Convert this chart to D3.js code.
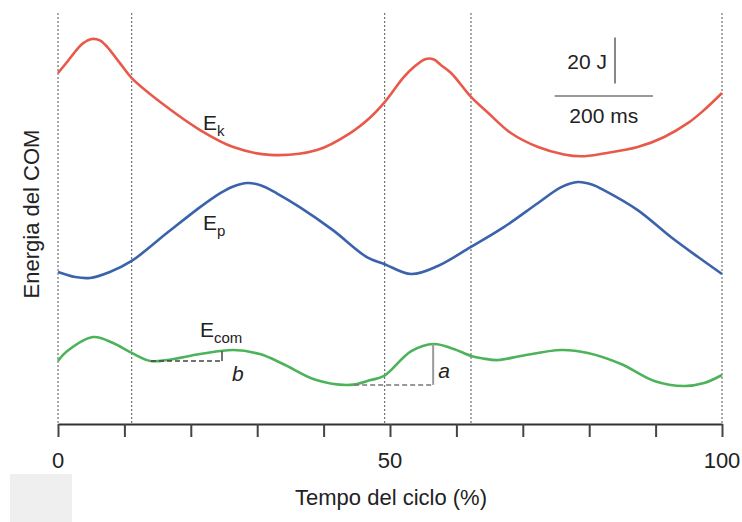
<!DOCTYPE html>
<html>
<head>
<meta charset="utf-8">
<script src="https://cdn.jsdelivr.net/npm/d3@7"></script>
<style>
  body { margin: 0; background: #fff; }
  text { font-family: "Liberation Sans", Arial, Helvetica, sans-serif; fill: #222; }
</style>
</head>
<body>
<svg id="chart" width="742" height="522"></svg>
<script>
// cycle percent where each curve was sampled
var ekPct = [0, 1.4, 2.9, 3.8, 5.1, 6.3, 7.4, 9.3, 11.1, 16.4, 21.4, 26.4, 31.9, 39, 44, 47.1, 49.1, 52.1, 53.6, 55.4, 56.6, 57.7, 59.2, 62.2, 64.8, 68.2, 72.3, 76.2, 78.8, 82.2, 87.3, 91.3, 94.9, 97.3, 100];
var ekVals = [152.6, 157.5, 163, 165.6, 167.4, 166.8, 164, 157, 150.4, 137.8, 127.8, 120.4, 117, 119.1, 126.5, 133.5, 139.6, 150.9, 155.2, 158.7, 158.5, 156, 152.6, 142.2, 135.2, 126.5, 120.4, 117.2, 116.4, 117.6, 120.4, 124.8, 130.9, 136.5, 143.9];

var epPct = [0, 2.6, 4.8, 7.8, 11.1, 16.4, 21.4, 24.5, 26.4, 28.5, 30.5, 33, 36.4, 41.4, 46.5, 49.1, 53.2, 57.2, 62.2, 67.2, 72.3, 75.8, 78.3, 80.5, 82.2, 87.3, 92.3, 96.4, 100];
var epVals = [66.1, 63.9, 63.5, 66.1, 70.9, 83, 94.3, 100.5, 103.3, 104.8, 103.8, 100.2, 94.3, 84.3, 72.6, 69.6, 65.2, 68.7, 77, 85.7, 96.1, 103, 105.2, 104, 101.7, 93, 81.3, 72.6, 65.2];

var ecomPct = [0, 1.4, 5.3, 8.3, 11.1, 13.9, 16.4, 21.4, 26.4, 30.4, 33.9, 38.9, 44, 47.1, 49.1, 53.2, 56.6, 59.6, 62.2, 64, 66.3, 69.7, 75.8, 79.8, 84.8, 89.8, 94.3, 97.3, 100];
var ecomVals = [27.4, 31.7, 37.8, 35.2, 30.9, 27.4, 27.8, 30.4, 32.2, 30.4, 26.1, 19.1, 17, 19.1, 20.9, 31.7, 34.8, 32.6, 29.6, 28.5, 27.8, 29.6, 32.2, 30.9, 26.1, 18.7, 16.5, 17.8, 21.3];

// gait events (dotted verticals), axis ticks
var eventPct = [0, 11.1, 49.2, 62.2, 100];
var tickVals = [0, 10, 20, 30, 40, 50, 60, 70, 80, 90, 100];
var tickLabels = ["0", "50", "100"];

// annotations b and a: [x start, x end, low energy, high energy]
var annotB = [14, 24.7, 27.4, 31.6];
var annotA = [44.6, 56.5, 17, 34.8];

// scale bars: 20 J and 200 ms (as % of cycle)
var barJ = [148, 168];
var barMs = [74.8, 89.6];

var svg = d3.select("#chart");
var x = d3.scaleLinear().domain([0, 100]).range([58, 722]);
var y = d3.scaleLinear().domain([0, 180]).range([424, 10]);

// grey box bottom-left
svg.append("rect").attr("x", 10).attr("y", 474).attr("width", 62).attr("height", 48).attr("fill", "#efefef");

// dotted event lines
svg.selectAll(".ev").data(eventPct).enter().append("line")
  .attr("x1", function(d) { return x(d); }).attr("x2", function(d) { return x(d); })
  .attr("y1", 13).attr("y2", 424)
  .attr("stroke", "#555").attr("stroke-width", 1).attr("stroke-dasharray", "2,2");

// x axis
var xAxis = d3.axisBottom(x).tickValues(tickVals).tickSize(13).tickSizeOuter(0).tickFormat("");
var ax = svg.append("g").attr("transform", "translate(0,424)").call(xAxis);
ax.select(".domain").attr("stroke", "#333").attr("stroke-width", 2);
ax.selectAll(".tick line").attr("stroke", "#444").attr("stroke-width", 2);

svg.selectAll(".tl").data(tickLabels).enter().append("text")
  .attr("x", function(d) { return x(+d); }).attr("y", 468)
  .attr("text-anchor", "middle").attr("font-size", 22).text(function(d) { return d; });

svg.append("text").attr("x", 391).attr("y", 505).attr("text-anchor", "middle")
  .attr("font-size", 22).text("Tempo del ciclo (%)");

svg.append("text").attr("transform", "translate(31,214) rotate(-90)")
  .attr("text-anchor", "middle").attr("dy", "0.35em").attr("font-size", 22).text("Energia del COM");

// curves
var line = d3.line().x(function(d) { return x(d[0]); }).y(function(d) { return y(d[1]); }).curve(d3.curveCatmullRom.alpha(0.5));
var series = [
  { pct: ekPct, vals: ekVals, color: "#e9594a" },
  { pct: epPct, vals: epVals, color: "#3a63ac" },
  { pct: ecomPct, vals: ecomVals, color: "#4db35b" }
];
series.forEach(function(s) {
  svg.append("path").datum(d3.zip(s.pct, s.vals))
    .attr("d", line).attr("fill", "none")
    .attr("stroke", s.color).attr("stroke-width", 2.6);
});

// curve labels
function eLabel(px, py, sub) {
  var t = svg.append("text").attr("x", px).attr("y", py).attr("font-size", 21);
  t.append("tspan").text("E");
  t.append("tspan").attr("font-size", 15).attr("dy", 6).text(sub);
}
eLabel(203, 130, "k");
eLabel(203, 230, "p");
eLabel(200, 337, "com");

// annotation b
svg.append("line").attr("x1", x(annotB[0])).attr("x2", x(annotB[1])).attr("y1", y(annotB[2])).attr("y2", y(annotB[2]))
  .attr("stroke", "#444").attr("stroke-width", 1.5).attr("stroke-dasharray", "5,3");
svg.append("line").attr("x1", x(annotB[1])).attr("x2", x(annotB[1])).attr("y1", y(annotB[2])).attr("y2", y(annotB[3]))
  .attr("stroke", "#444").attr("stroke-width", 1.5);
svg.append("text").attr("x", x(annotB[1]) + 10).attr("y", 381).attr("font-size", 21).attr("font-style", "italic").text("b");

// annotation a
svg.append("line").attr("x1", x(annotA[0])).attr("x2", x(annotA[1])).attr("y1", y(annotA[2])).attr("y2", y(annotA[2]))
  .attr("stroke", "#777").attr("stroke-width", 1.5).attr("stroke-dasharray", "5,3");
svg.append("line").attr("x1", x(annotA[1])).attr("x2", x(annotA[1])).attr("y1", y(annotA[2])).attr("y2", y(annotA[3]))
  .attr("stroke", "#999").attr("stroke-width", 2);
svg.append("text").attr("x", x(annotA[1]) + 5).attr("y", 378).attr("font-size", 21).attr("font-style", "italic").text("a");

// scale bars
svg.append("line").attr("x1", 615).attr("x2", 615).attr("y1", y(barJ[0])).attr("y2", y(barJ[1]))
  .attr("stroke", "#888").attr("stroke-width", 2);
svg.append("text").attr("x", 607).attr("y", 69).attr("text-anchor", "end").attr("font-size", 21).text("20 J");
svg.append("line").attr("x1", x(barMs[0])).attr("x2", x(barMs[1])).attr("y1", 96).attr("y2", 96)
  .attr("stroke", "#999").attr("stroke-width", 2);
svg.append("text").attr("x", (x(barMs[0]) + x(barMs[1])) / 2).attr("y", 123).attr("text-anchor", "middle")
  .attr("font-size", 21).text("200 ms");
</script>
</body>
</html>
